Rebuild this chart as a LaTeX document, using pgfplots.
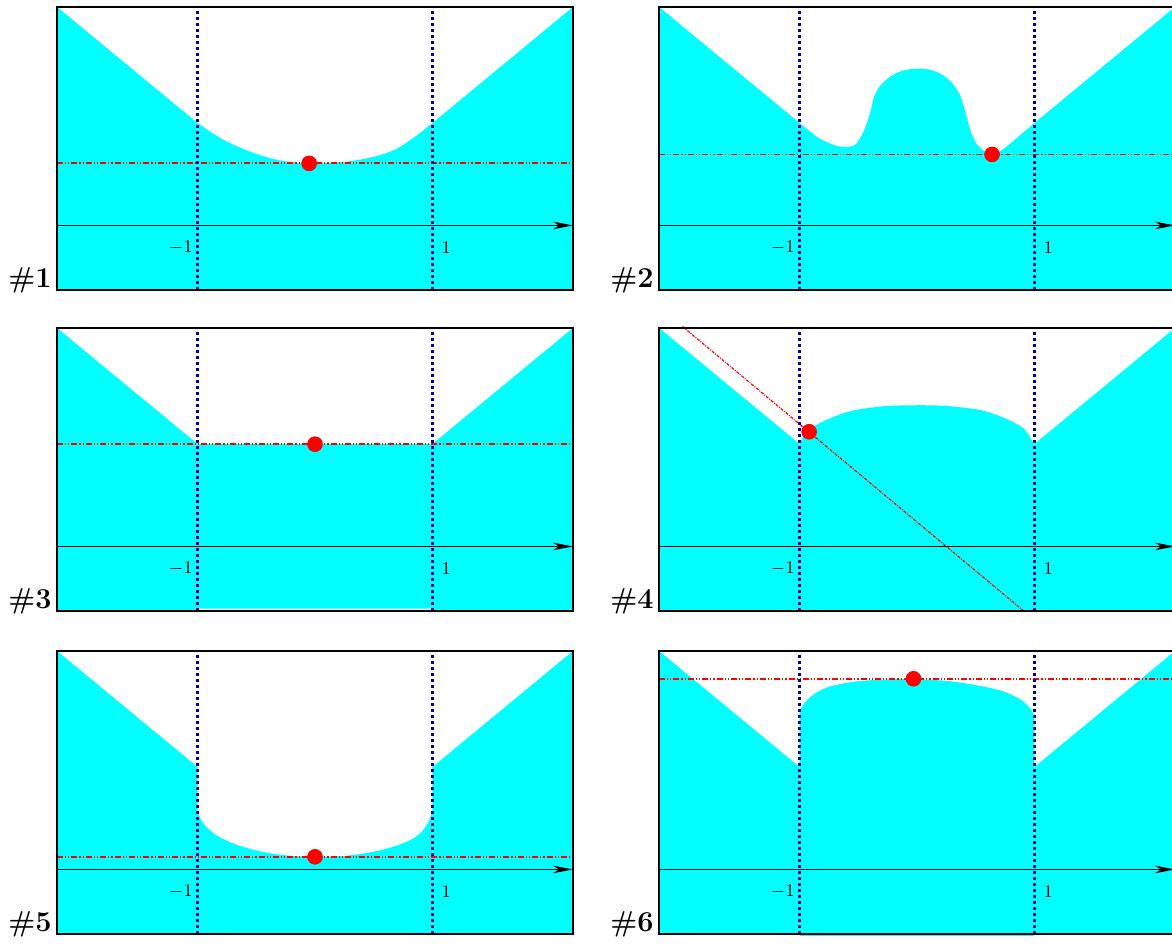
\documentclass[border=0pt]{standalone}
\usepackage{pgfplots}
\pgfplotsset{compat=1.18}
\usetikzlibrary{arrows.meta}

\definecolor{dotblue}{RGB}{0,0,170}
\definecolor{aqua}{RGB}{0,255,255}

\pgfplotsset{
  panel/.style={scale only axis, width=258pt, height=141.5pt,
    xmin=-2.2, xmax=2.2, ymin=-0.65, ymax=2.2, ticks=none,
    axis line style={line width=1pt}, axis on top, clip=false,
    anchor=south west},
}
\tikzset{
  area/.style={fill=aqua, draw=none},
  redline/.style={red, line width=0.9pt,
    dash pattern=on 3pt off 1pt on 0.6pt off 1pt on 0.6pt off 1pt},
  bluedot/.style={dotblue, line width=1.4pt, dash pattern=on 1.5pt off 1.5pt},
  xarrow/.style={black, line width=0.5pt,
    -{Stealth[length=10pt,width=3.8pt,inset=3pt]}},
  reddot/.style={only marks, mark=*, mark size=3.7pt,
    mark options={fill=red, draw=red}},
}
% the two straight arms of the V and the strip below the x axis
\newcommand{\vshape}{%
  \addplot[area] coordinates {(-2.2,-0.65) (-2.2,0) (2.2,0) (2.2,-0.65)};
  \addplot[area] coordinates {(-2.2,0) (-2.2,2.2) (-1,1.03) (-1,0)};
  \addplot[area] coordinates {(1,0) (1,1.03) (2.2,2.2) (2.2,0)};
}
% arrow, the two dotted lines, tick labels and the panel number
\newcommand{\frameparts}[1]{%
  \addplot[xarrow] coordinates {(-2.2,0) (2.2,0)};
  \addplot[bluedot] coordinates {(-1,-0.65) (-1,2.2)};
  \addplot[bluedot] coordinates {(1,-0.65) (1,2.2)};
  \node[font=\small, xshift=-8.5pt, yshift=-11pt] at (axis cs:-1,0) {$-1$};
  \node[font=\small, xshift=7pt, yshift=-11pt] at (axis cs:1,0) {$1$};
  \node[anchor=base east, inner sep=0pt, font=\Large\bfseries,
    xshift=-2.5pt, yshift=1pt] at (rel axis cs:0,0) {\##1};
}

\begin{document}
\begin{tikzpicture}
\path[use as bounding box] (0,0) rectangle (586pt,472.5pt);

% #1
\begin{axis}[panel, at={(28.5pt,327.5pt)}]
\vshape
\addplot[area, smooth] coordinates {
  (-1,1.03) (-0.9,0.95) (-0.8,0.875) (-0.7,0.815) (-0.6,0.765) (-0.45,0.7)
  (-0.3,0.655) (-0.15,0.633) (-0.05,0.625) (0.1,0.628) (0.25,0.64)
  (0.42,0.67) (0.58,0.717) (0.7,0.775) (0.8,0.85) (0.9,0.935) (1,1.03)}
  \closedcycle;
\addplot[redline] coordinates {(-2.2,0.625) (2.2,0.625)};
\frameparts{1}
\addplot[reddot] coordinates {(-0.05,0.625)};
\end{axis}

% #2
\begin{axis}[panel, at={(329.5pt,327.5pt)}]
\vshape
\addplot[area, smooth] coordinates {
  (-1,1.03) (-0.85,0.89) (-0.75,0.83) (-0.68,0.80) (-0.6,0.79) (-0.53,0.81)
  (-0.49,0.87) (-0.45,0.96) (-0.4,1.13) (-0.37,1.28) (-0.33,1.38)
  (-0.28,1.45) (-0.2,1.52) (-0.12,1.56) (0,1.58) (0.1,1.57) (0.18,1.54)
  (0.26,1.48) (0.31,1.42) (0.35,1.35) (0.38,1.27) (0.41,1.15) (0.44,1.02)
  (0.47,0.91) (0.51,0.82) (0.56,0.76) (0.61,0.72) (0.64,0.715) (0.7,0.74)
  (0.76,0.79) (0.85,0.88) (1,1.03)} \closedcycle;
\addplot[redline] coordinates {(-2.2,0.715) (2.2,0.715)};
\frameparts{2}
\addplot[reddot] coordinates {(0.64,0.715)};
\end{axis}

% #3
\begin{axis}[panel, at={(28.5pt,167pt)}]
\addplot[area] coordinates {
  (-2.2,-0.65) (-2.2,2.2) (-1,1.03) (1,1.03) (2.2,2.2) (2.2,-0.65)
  (1,-0.65) (1,-0.625) (-1,-0.625) (-1,-0.65)};
\addplot[redline] coordinates {(-2.2,1.03) (2.2,1.03)};
\frameparts{3}
\addplot[reddot] coordinates {(0,1.03)};
\end{axis}

% #4
\begin{axis}[panel, at={(329.5pt,167pt)}]
\vshape
\addplot[area, smooth] coordinates {
  (-1,1.03) (-0.97,1.11) (-0.9,1.18) (-0.846,1.232) (-0.69,1.315)
  (-0.533,1.372) (-0.282,1.412) (0,1.422) (0.251,1.415) (0.533,1.375)
  (0.721,1.305) (0.878,1.215) (0.93,1.16) (0.956,1.115) (0.98,1.07)
  (1,1.03)} \closedcycle;
\addplot[redline, line width=0.6pt, dash pattern=on 1.5pt off 0.6pt on 0.5pt off 0.6pt]
  coordinates {(-2.0,2.215) (0.91,-0.65)};
\frameparts{4}
\addplot[reddot] coordinates {(-0.92,1.155)};
\end{axis}

% #5
\begin{axis}[panel, at={(28.5pt,5.5pt)}]
\vshape
\addplot[area, smooth] coordinates {
  (-1,0.585) (-0.961,0.478) (-0.862,0.361) (-0.731,0.277) (-0.567,0.211)
  (-0.403,0.167) (-0.207,0.137) (0,0.127) (0.252,0.137) (0.449,0.167)
  (0.646,0.221) (0.81,0.294) (0.908,0.378) (0.967,0.478) (1,0.585)}
  \closedcycle;
\addplot[redline] coordinates {(-2.2,0.127) (2.2,0.127)};
\frameparts{5}
\addplot[reddot] coordinates {(0,0.127)};
\end{axis}

% #6
\begin{axis}[panel, at={(329.5pt,5.5pt)}]
\vshape
\addplot[area] coordinates {(-1,-0.65) (-1,-0.675) (1,-0.675) (1,-0.65)};
\addplot[area, smooth] coordinates {
  (-1,1.598) (-0.956,1.682) (-0.878,1.765) (-0.752,1.839) (-0.533,1.892)
  (-0.282,1.912) (-0.03,1.916) (0.251,1.899) (0.502,1.856) (0.721,1.799)
  (0.878,1.715) (0.972,1.615) (1,1.531)} \closedcycle;
\addplot[redline] coordinates {(-2.2,1.92) (2.2,1.92)};
\frameparts{6}
\addplot[reddot] coordinates {(-0.03,1.92)};
\end{axis}
\end{tikzpicture}
\end{document}
